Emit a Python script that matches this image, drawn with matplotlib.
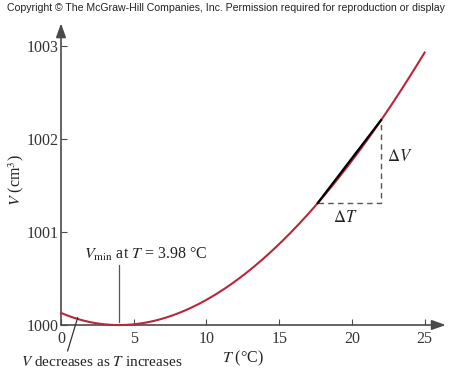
import matplotlib
matplotlib.use("Agg")
import matplotlib.pyplot as plt
import numpy as np

# Data
T = [0, 1, 2, 3, 4, 5, 6, 7, 8, 9, 10, 11, 12, 13, 14, 15, 16, 17, 18, 19, 20, 21, 22, 23, 24, 25]
V = [1000.13, 1000.07, 1000.03, 1000.01, 1000.00, 1000.01, 1000.03, 1000.07, 1000.12, 1000.19,
     1000.27, 1000.36, 1000.47, 1000.59, 1000.73, 1000.87, 1001.03, 1001.20, 1001.37, 1001.56,
     1001.76, 1001.98, 1002.20, 1002.43, 1002.67, 1002.93]
x_ticks = [0, 5, 10, 15, 20, 25]
y_ticks = [1000, 1001, 1002, 1003]
T_min = 3.98
chord_T = [17.65, 22.0]
chord_V = [1001.31, 1002.20]

plt.rcParams['font.family'] = ['Liberation Serif', 'DejaVu Serif']
plt.rcParams['mathtext.fontset'] = 'stix'

fig = plt.figure(figsize=(4.53, 3.71), dpi=100)
ax = fig.add_axes([61/453, 46/371, 384/453, 297/371])
ax.set_xlim(0, 26.4)
ax.set_ylim(1000, 1003.19)
for s in ax.spines.values():
    s.set_visible(False)

axcol = '#4a4a4a'
# axes with arrows
ax.annotate('', xy=(26.45, 1000), xytext=(0, 1000),
            arrowprops=dict(arrowstyle='-|>,head_length=0.7,head_width=0.25', color=axcol, lw=1.2,
                            mutation_scale=12, shrinkA=0, shrinkB=0),
            annotation_clip=False)
ax.annotate('', xy=(0, 1003.24), xytext=(0, 1000),
            arrowprops=dict(arrowstyle='-|>,head_length=0.7,head_width=0.25', color=axcol, lw=1.2,
                            mutation_scale=12, shrinkA=0, shrinkB=0),
            annotation_clip=False)

ax.set_xticks(x_ticks)
ax.set_yticks(y_ticks)
ax.tick_params(axis='both', direction='in', length=4, width=0.8, color=axcol,
               labelsize=11.5, labelcolor='#333333', pad=2)
ax.tick_params(axis='x', pad=4)

# curve
Ts = np.array(T, float)
Vs = np.array(V, float)
tt = np.linspace(0, 25, 400)
coef = np.polyfit(Ts, Vs, 4)
ax.plot(tt, np.polyval(coef, tt), color='#b5283c', lw=1.5, clip_on=False, zorder=3)

# chord and dashed triangle
ax.plot(chord_T, chord_V, color='black', lw=1.6, zorder=4)
ax.plot([chord_T[0], chord_T[1], chord_T[1]], [chord_V[0], chord_V[0], chord_V[1]],
        color='#555555', lw=1.0, ls=(0, (4, 3)), zorder=2)
ax.text(chord_T[1] + 0.4, (chord_V[0] + chord_V[1]) / 2 + 0.05, r'$\Delta V$', fontsize=12,
        ha='left', va='center', color='#222222')
ax.text((chord_T[0] + chord_T[1]) / 2 - 0.3, chord_V[0] - 0.08, r'$\Delta T$', fontsize=12,
        ha='center', va='top', color='#222222')

# Vmin annotation
ax.plot([T_min, T_min], [1000.03, 1000.64], color='#555555', lw=0.9)
ax.text(1.6, 1000.67, r'$V_{\rm min}$ at $T$ = 3.98 °C', fontsize=11.5, ha='left', va='bottom',
        color='#222222')

# V decreases annotation
ax.annotate('', xy=(1.15, 1000.08), xytext=(0.45, 999.72),
            arrowprops=dict(arrowstyle='-', color='#333333', lw=0.9, shrinkA=0, shrinkB=0),
            annotation_clip=False)
fig.text(21/453, 1 - 362/371, r'$V$ decreases as $T$ increases', fontsize=11, ha='left',
         va='center', color='#222222')

# axis labels
fig.text(243/453, 1 - 358/371, r'$T$ (°C)', fontsize=11.5, ha='center', va='center', color='#222222')
fig.text(16/453, 1 - 180/371, r'$V$ (cm$^3$)', fontsize=11.5, ha='center', va='center',
         rotation=90, color='#222222')

# copyright
fig.text(226/453, 1 - 8/371,
         'Copyright © The McGraw-Hill Companies, Inc. Permission required for reproduction or display',
         fontsize=7.6, ha='center', va='center', family=['Liberation Sans', 'DejaVu Sans'],
         color='#222222')

fig.savefig('out.png', dpi=100)
